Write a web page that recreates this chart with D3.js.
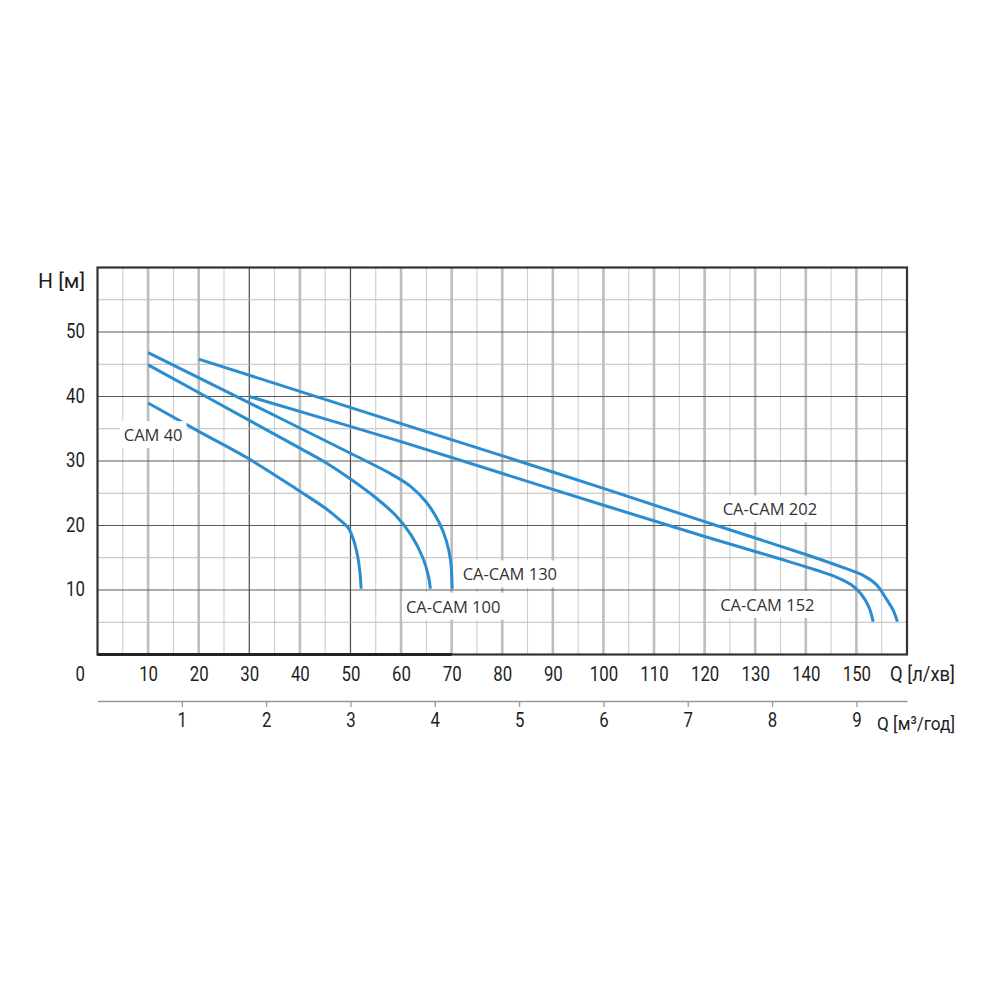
<!DOCTYPE html>
<html><head><meta charset="utf-8">
<script src="https://cdn.jsdelivr.net/npm/d3@7"></script>
<style>body{margin:0;background:#fff}</style>
</head><body><svg id="c" width="1000" height="1000"></svg>
<script>
// ---- data ----
const qTicksLpm = [10,20,30,40,50,60,70,80,90,100,110,120,130,140,150];
const qTicksM3h = [1,2,3,4,5,6,7,8,9];
const hTicks = [10,20,30,40,50];
const seriesNames = ["CAM 40","CA-CAM 100","CA-CAM 130","CA-CAM 152","CA-CAM 202"];
const cam40Q  = [10,20,30,40,45,48,49.6,50.6,51.4,51.9,52.1];
const cam40H  = [39,34.6,30.3,25.3,22.7,20.8,19.6,17.8,15.3,12.5,10.2];
const cam100Q = [10,30,40,45,50,55,59,62,64.3,65.4,65.8];
const cam100H = [44.9,36.3,32,29.8,27.2,24.3,21.5,18.5,15,12.2,10.2];
const cam130Q = [10,30,50,58,62,65,67.5,69,69.8,70.1];
const cam130H = [46.8,39,31.2,28,26,23.6,20.5,17.5,14.5,10.2];
const cam152Q = [30,60,90,120,135,142,146,149,151,152.5,153.3];
const cam152H = [40,33,25.6,18.3,14.8,13.1,12,10.8,9.3,7.3,5.1];
const cam202Q = [20,60,90,120,140,148,151.5,154,156,157.3,158.1];
const cam202H = [45.8,35.8,28.3,20.6,15.5,13.3,12.2,10.8,8.5,6.8,5.1];

// ---- layout ----
const svg = d3.select("#c");
svg.append("rect").attr("width",1000).attr("height",1000).attr("fill","#fff");
const x = d3.scaleLinear().domain([0,160]).range([97.5,907]);
const xm = d3.scaleLinear().domain([0,160*0.06]).range([97.5,907]);
const y = d3.scaleLinear().domain([0,60]).range([654.5,267.5]);
const tickFont = "Roboto,'Liberation Sans',sans-serif";
const labelFont = "'Open Sans','Noto Sans',sans-serif";
const SX = 0.82; // condensed look
const ink = "#1e1e1e";

function condense(sel){
  sel.each(function(){
    const t = d3.select(this);
    const xv = +(t.attr("x")||0);
    t.attr("x", xv/SX).attr("transform", `scale(${SX},1)`);
  });
}

const grid = svg.append("g");
d3.range(5,160,5).forEach(q=>{
  const dark = (q===30||q===50);
  const major = q%10===0;
  grid.append("line").attr("x1",x(q)).attr("x2",x(q)).attr("y1",y(60)).attr("y2",y(0))
    .attr("stroke", dark?"#4a4a4a":(major?"#bdbdbd":"#c9c9c9"))
    .attr("stroke-width", dark?1.2:(major?2.6:1));
});
d3.range(5,60,5).forEach(h=>{
  const major = h%10===0;
  grid.append("line").attr("x1",x(0)).attr("x2",x(160)).attr("y1",y(h)).attr("y2",y(h))
    .attr("stroke", major?"#5a5a5a":"#bdbdbd").attr("stroke-width", major?1.2:1);
});
svg.append("rect").attr("x",x(0)).attr("y",y(60)).attr("width",x(160)-x(0)).attr("height",y(0)-y(60))
  .attr("fill","none").attr("stroke","#333").attr("stroke-width",2.2);
svg.append("line").attr("x1",x(0)).attr("x2",x(70)).attr("y1",y(0)).attr("y2",y(0))
  .attr("stroke","#222").attr("stroke-width",3.2);

// curves
const line = d3.line().x(d=>x(d[0])).y(d=>y(d[1])).curve(d3.curveCatmullRom.alpha(0.5));
const seriesQ = [cam40Q,cam100Q,cam130Q,cam152Q,cam202Q];
const seriesH = [cam40H,cam100H,cam130H,cam152H,cam202H];
seriesNames.forEach((n,i)=>{
  const pts = seriesQ[i].map((q,j)=>[q,seriesH[i][j]]);
  svg.append("path").attr("d",line(pts)).attr("fill","none")
    .attr("stroke","#2a8dd0").attr("stroke-width",3);
});

// curve labels
const labelAnchor = {"CAM 40":[11,34.0],"CA-CAM 100":[70.3,7.4],"CA-CAM 130":[81.5,12.4],
  "CA-CAM 152":[132.4,7.7],"CA-CAM 202":[132.9,22.5]};
seriesNames.forEach(n=>{
  const [q,h]=labelAnchor[n];
  const g = svg.append("g");
  const r = g.append("rect").attr("fill","#fff");
  const t = g.append("text").attr("x",x(q)).attr("y",y(h)).attr("dy","0.36em")
    .attr("text-anchor","middle").attr("font-family",labelFont).attr("font-size",16.5)
    .attr("fill","#333").text(n);
  const b = t.node().getBBox();
  r.attr("x",b.x-4).attr("y",b.y-2).attr("width",b.width+8).attr("height",b.height+4);
});

// axes
const ax1 = svg.append("g").attr("transform",`translate(0,${y(0)})`)
  .call(d3.axisBottom(x).tickValues(qTicksLpm).tickSize(0).tickPadding(11.5).tickFormat(d3.format("d")));
ax1.select(".domain").remove();
ax1.selectAll("text").attr("font-family",tickFont).attr("font-size",20.5).attr("fill",ink).call(condense);

const ay = svg.append("g").attr("transform",`translate(${x(0)},0)`)
  .call(d3.axisLeft(y).tickValues(hTicks).tickSize(0).tickPadding(12.5));
ay.select(".domain").remove();
ay.selectAll("text").attr("font-family",tickFont).attr("font-size",20.5).attr("fill",ink).attr("dy","0.28em").call(condense);

const ax2 = svg.append("g").attr("transform","translate(0,701)")
  .call(d3.axisBottom(xm).tickValues(qTicksM3h).tickSize(6).tickSizeOuter(0).tickPadding(5).tickFormat(d3.format("d")));
ax2.select(".domain").attr("stroke","#999").attr("stroke-width",1.3);
ax2.selectAll(".tick line").attr("stroke","#999").attr("stroke-width",1.3);
ax2.selectAll("text").attr("font-family",tickFont).attr("font-size",20.5).attr("fill",ink).call(condense);

svg.append("text").attr("x",85).attr("y",y(0)+26.5).attr("text-anchor","end")
  .attr("font-family",tickFont).attr("font-size",20.5).attr("fill",ink).text("0").call(condense);

svg.append("text").attr("x",38).attr("y",288).attr("textLength",47).attr("lengthAdjust","spacingAndGlyphs")
  .attr("font-family",tickFont).attr("font-size",21).attr("fill",ink).text("H [м]");
svg.append("text").attr("x",890).attr("y",681).attr("textLength",65).attr("lengthAdjust","spacingAndGlyphs")
  .attr("font-family",tickFont).attr("font-size",20).attr("fill",ink).text("Q [л/хв]");
svg.append("text").attr("x",877).attr("y",730).attr("textLength",78).attr("lengthAdjust","spacingAndGlyphs")
  .attr("font-family",tickFont).attr("font-size",19).attr("fill",ink).text("Q [м³/год]");
</script></body></html>
